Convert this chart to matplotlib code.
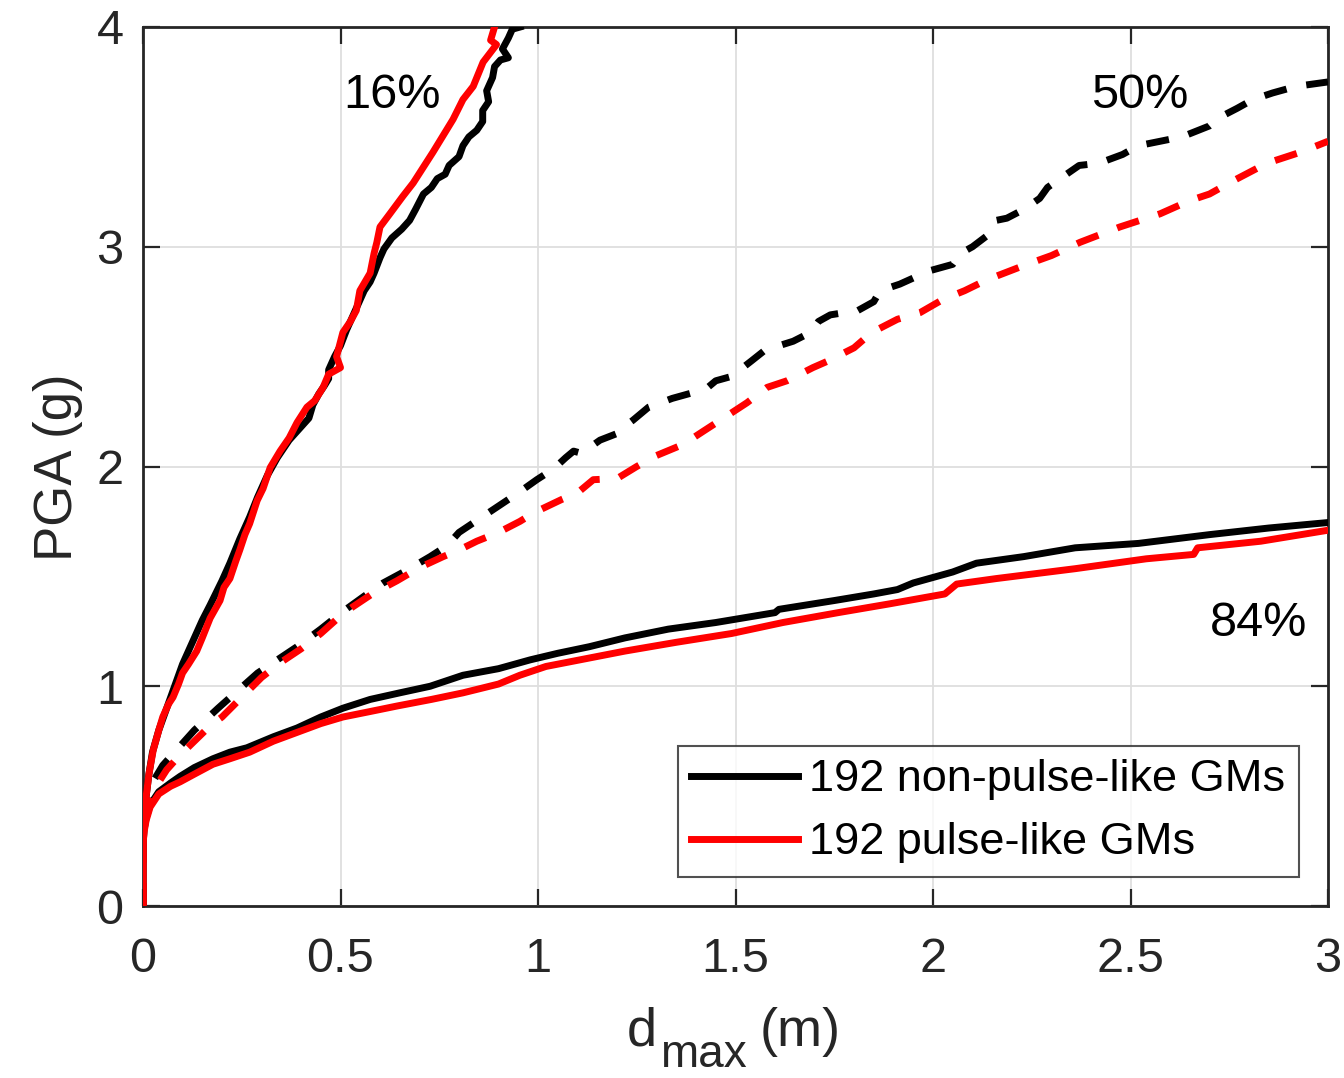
import matplotlib
matplotlib.use("Agg")
import matplotlib.pyplot as plt

plt.rcParams['font.family'] = ['Liberation Sans', 'DejaVu Sans']

# ---- data (d_max in m, PGA in g) ----
# 16% fractile
nonpulse_16_d = [0, 0, 0.003, 0.008, 0.015, 0.024, 0.04, 0.06, 0.08, 0.10, 0.125, 0.15, 0.17, 0.20, 0.22,
                 0.245, 0.27, 0.29, 0.315, 0.34, 0.37, 0.40, 0.42, 0.43, 0.445, 0.46, 0.47, 0.47, 0.485, 0.50,
                 0.515, 0.53, 0.545, 0.56, 0.575, 0.585, 0.60, 0.61, 0.63, 0.655, 0.675, 0.69, 0.71, 0.73,
                 0.745, 0.765, 0.775, 0.80, 0.81, 0.825, 0.845, 0.86, 0.86, 0.875, 0.87, 0.885, 0.89, 0.905,
                 0.925, 0.91, 0.925, 0.935, 0.955]
nonpulse_16_pga = [0, 0.30, 0.40, 0.50, 0.60, 0.70, 0.80, 0.90, 1.0, 1.10, 1.20, 1.30, 1.37, 1.48, 1.56,
                   1.67, 1.77, 1.86, 1.96, 2.04, 2.12, 2.18, 2.22, 2.28, 2.33, 2.37, 2.40, 2.44, 2.50, 2.55,
                   2.62, 2.68, 2.74, 2.80, 2.84, 2.88, 2.95, 2.99, 3.04, 3.08, 3.12, 3.17, 3.24, 3.27,
                   3.31, 3.33, 3.37, 3.41, 3.46, 3.50, 3.53, 3.57, 3.62, 3.66, 3.71, 3.77, 3.82, 3.85,
                   3.86, 3.90, 3.95, 3.99, 4.0]
pulse_16_d = [0, 0, 0.003, 0.008, 0.015, 0.026, 0.04, 0.05, 0.065, 0.076, 0.09, 0.10, 0.115, 0.136, 0.15,
              0.17, 0.195, 0.205, 0.22, 0.235, 0.245, 0.258, 0.27, 0.289, 0.304, 0.322, 0.347, 0.37, 0.39,
              0.415, 0.435, 0.456, 0.47, 0.50, 0.49, 0.506, 0.525, 0.54, 0.549, 0.575, 0.585, 0.592, 0.60,
              0.625, 0.658, 0.684, 0.734, 0.785, 0.81, 0.836, 0.861, 0.878, 0.895, 0.88, 0.89, 0.895]
pulse_16_pga = [0, 0.30, 0.40, 0.50, 0.60, 0.71, 0.80, 0.86, 0.92, 0.95, 1.01, 1.06, 1.10, 1.16, 1.22,
                1.31, 1.39, 1.45, 1.49, 1.57, 1.62, 1.69, 1.74, 1.845, 1.90, 1.995, 2.07, 2.13, 2.20,
                2.27, 2.30, 2.36, 2.42, 2.45, 2.50, 2.61, 2.66, 2.71, 2.80, 2.88, 2.97, 3.02, 3.09,
                3.15, 3.23, 3.29, 3.43, 3.58, 3.67, 3.73, 3.84, 3.88, 3.92, 3.94, 4.0, 4.05]

# 50% fractile
nonpulse_50_d = [0, 0, 0.005, 0.015, 0.03, 0.05, 0.07, 0.09, 0.13, 0.16, 0.19, 0.24, 0.29, 0.34, 0.39, 0.45,
                 0.506, 0.56, 0.608, 0.67, 0.727, 0.77, 0.80, 0.85, 0.90, 0.95, 0.997, 1.04, 1.07, 1.09,
                 1.11, 1.157, 1.20, 1.21, 1.24, 1.28, 1.34, 1.40, 1.43, 1.45, 1.49, 1.54, 1.575, 1.646,
                 1.69, 1.71, 1.74, 1.81, 1.85, 1.866, 1.916, 1.99, 2.05, 2.07, 2.10, 2.144, 2.16, 2.187,
                 2.23, 2.27, 2.29, 2.314, 2.37, 2.42, 2.48, 2.52, 2.63, 2.70, 2.727, 2.77, 2.81, 2.86,
                 2.92, 3.0]
nonpulse_50_pga = [0, 0.30, 0.40, 0.50, 0.58, 0.64, 0.68, 0.72, 0.80, 0.85, 0.90, 0.98, 1.06, 1.12, 1.18, 1.26,
                   1.34, 1.41, 1.47, 1.53, 1.59, 1.64, 1.70, 1.76, 1.82, 1.88, 1.94, 1.99, 2.04, 2.07,
                   2.06, 2.12, 2.15, 2.17, 2.21, 2.27, 2.31, 2.34, 2.36, 2.39, 2.41, 2.48, 2.53, 2.57,
                   2.61, 2.66, 2.69, 2.71, 2.75, 2.80, 2.83, 2.89, 2.92, 2.97, 3.0, 3.06, 3.12, 3.13,
                   3.17, 3.22, 3.27, 3.30, 3.37, 3.38, 3.42, 3.46, 3.50, 3.55, 3.59, 3.63, 3.67, 3.70,
                   3.73, 3.75]
pulse_50_d = [0, 0, 0.006, 0.018, 0.035, 0.06, 0.09, 0.13, 0.17, 0.20, 0.25, 0.30, 0.35, 0.40, 0.45, 0.50,
              0.53, 0.58, 0.643, 0.70, 0.76, 0.80, 0.845, 0.90, 0.954, 0.99, 1.06, 1.10, 1.14, 1.20, 1.25,
              1.30, 1.367, 1.418, 1.478, 1.529, 1.58, 1.63, 1.696, 1.734, 1.80, 1.845, 1.91, 1.967, 2.025,
              2.08, 2.137, 2.238, 2.30, 2.372, 2.473, 2.575, 2.65, 2.70, 2.76, 2.845, 2.93, 3.0]
pulse_50_pga = [0, 0.30, 0.40, 0.48, 0.55, 0.62, 0.68, 0.75, 0.82, 0.86, 0.95, 1.04, 1.11, 1.17, 1.24, 1.32,
                1.36, 1.42, 1.48, 1.54, 1.59, 1.62, 1.66, 1.70, 1.75, 1.79, 1.85, 1.88, 1.94, 1.945, 2.00,
                2.05, 2.10, 2.16, 2.23, 2.29, 2.36, 2.39, 2.45, 2.48, 2.54, 2.61, 2.67, 2.70, 2.76,
                2.80, 2.85, 2.92, 2.96, 3.02, 3.09, 3.15, 3.21, 3.24, 3.30, 3.38, 3.43, 3.48]

# 84% fractile
nonpulse_84_d = [0, 0, 0.003, 0.008, 0.018, 0.04, 0.07, 0.094, 0.13, 0.177, 0.22, 0.263, 0.33, 0.39, 0.45,
                 0.506, 0.575, 0.65, 0.727, 0.81, 0.90, 0.98, 1.05, 1.13, 1.22, 1.33, 1.45, 1.55, 1.60,
                 1.61, 1.75, 1.85, 1.91, 1.95, 1.99, 2.05, 2.11, 2.23, 2.36, 2.52, 2.70, 2.85, 3.0]
nonpulse_84_pga = [0, 0.28, 0.35, 0.40, 0.46, 0.52, 0.56, 0.59, 0.63, 0.67, 0.70, 0.72, 0.77, 0.81, 0.86,
                   0.90, 0.94, 0.97, 1.0, 1.05, 1.08, 1.12, 1.15, 1.18, 1.22, 1.26, 1.29, 1.32, 1.335,
                   1.35, 1.39, 1.42, 1.44, 1.47, 1.49, 1.52, 1.56, 1.59, 1.63, 1.65, 1.69, 1.72, 1.745]
pulse_84_d = [0, 0, 0.003, 0.008, 0.018, 0.04, 0.07, 0.094, 0.13, 0.177, 0.22, 0.27, 0.33, 0.39, 0.45,
              0.506, 0.575, 0.643, 0.73, 0.81, 0.90, 0.954, 1.02, 1.12, 1.22, 1.35, 1.49, 1.62, 1.76,
              1.89, 2.03, 2.05, 2.06, 2.16, 2.36, 2.54, 2.66, 2.67, 2.83, 3.0]
pulse_84_pga = [0, 0.28, 0.34, 0.39, 0.45, 0.51, 0.545, 0.565, 0.60, 0.645, 0.67, 0.70, 0.75, 0.79, 0.83,
                0.86, 0.885, 0.91, 0.94, 0.97, 1.01, 1.05, 1.09, 1.125, 1.16, 1.20, 1.24, 1.29, 1.335,
                1.375, 1.42, 1.45, 1.465, 1.49, 1.535, 1.58, 1.60, 1.63, 1.66, 1.71]

x_ticks = [0, 0.5, 1, 1.5, 2, 2.5, 3]
x_tick_labels = ['0', '0.5', '1', '1.5', '2', '2.5', '3']
y_ticks = [0, 1, 2, 3, 4]
y_tick_labels = ['0', '1', '2', '3', '4']
legend_labels = ['192 non-pulse-like GMs', '192 pulse-like GMs']
fractile_labels = ['16%', '50%', '84%']
fractile_label_d = [0.63, 2.524, 2.823]
fractile_label_pga = [3.69, 3.69, 1.285]

# ---- figure ----
W, H = 1344, 1078
fig = plt.figure(figsize=(W / 100, H / 100), dpi=100)
ax = fig.add_axes([143 / W, 1 - 906 / H, (1328 - 143) / W, (906 - 27) / H])

lw = 5.0
dash = (3.3, 2.9)
l1, = ax.plot(nonpulse_16_d, nonpulse_16_pga, color='black', lw=lw, solid_joinstyle='round', zorder=3)
l2, = ax.plot(pulse_16_d, pulse_16_pga, color='red', lw=lw, solid_joinstyle='round', zorder=4)
ax.plot(nonpulse_50_d, nonpulse_50_pga, color='black', lw=lw, dashes=dash, zorder=3)
ax.plot(pulse_50_d, pulse_50_pga, color='red', lw=lw, dashes=dash, zorder=4)
ax.plot(nonpulse_84_d, nonpulse_84_pga, color='black', lw=lw, solid_joinstyle='round', zorder=3)
ax.plot(pulse_84_d, pulse_84_pga, color='red', lw=lw, solid_joinstyle='round', zorder=4)

for lab, xd, yp in zip(fractile_labels, fractile_label_d, fractile_label_pga):
    ax.text(xd, yp, lab, fontsize=35, ha='center', va='center', color='black', zorder=5)

ax.set_xlim(0, 3)
ax.set_ylim(0, 4)
ax.set_xticks(x_ticks)
ax.set_xticklabels(x_tick_labels)
ax.set_yticks(y_ticks)
ax.set_yticklabels(y_tick_labels)
ax.grid(True, color='#dedede', lw=1.3, zorder=0)
ax.set_axisbelow(True)

dark = '#262626'
for s in ax.spines.values():
    s.set_color(dark)
    s.set_linewidth(2.0)
ax.tick_params(direction='in', length=12, width=1.6, colors=dark, labelsize=35,
               top=True, right=True)
ax.tick_params(axis='y', pad=14)
ax.tick_params(axis='x', pad=22)

# axis labels (MATLAB-style large subscript)
fig.text(627 / W, 1 - 1046 / H, 'd', fontsize=39, color=dark, ha='left', va='baseline')
fig.text(660 / W, 1 - 1067 / H, 'max', fontsize=33, color=dark, ha='left', va='baseline')
fig.text(760 / W, 1 - 1046 / H, '(m)', fontsize=39, color=dark, ha='left', va='baseline')
fig.text(72 / W, 1 - 467.5 / H, 'PGA (g)', fontsize=38, color=dark, rotation=90,
         rotation_mode='anchor', ha='center', va='baseline')

leg = ax.legend([l1, l2], legend_labels, loc='lower right', bbox_to_anchor=(0.9755, 0.033),
                fontsize=32.5, frameon=True, fancybox=False, handlelength=2.36,
                handletextpad=0.25, labelspacing=0.49, borderpad=0.3, borderaxespad=0)
leg.get_frame().set_edgecolor(dark)
leg.get_frame().set_linewidth(1.5)
leg.set_zorder(10)

fig.savefig('out.png', dpi=100)
